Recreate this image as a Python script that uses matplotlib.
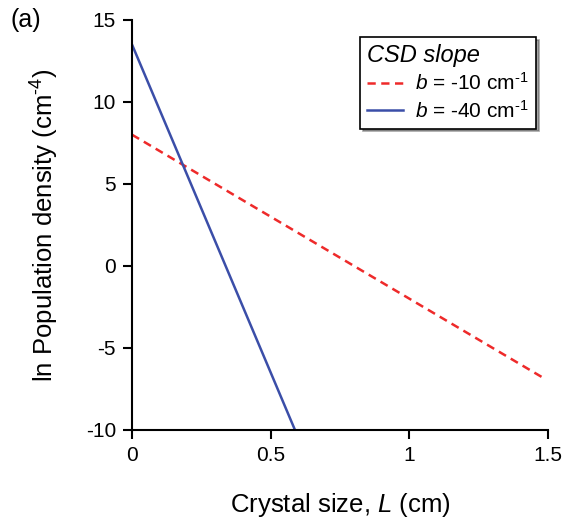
import numpy as np
import matplotlib.pyplot as plt

plt.rcParams['font.family'] = ['Liberation Sans', 'DejaVu Sans']
plt.rcParams['mathtext.fontset'] = 'custom'
plt.rcParams['mathtext.rm'] = 'Liberation Sans'
plt.rcParams['mathtext.it'] = 'Liberation Sans:italic'
plt.rcParams['axes.unicode_minus'] = False

# line endpoints (crystal size L in cm, ln population density)
L_red = [0.0, 1.48]
n_red = [8.0, -6.8]
L_blue = [0.0, 0.585]
n_blue = [13.5, -9.9]

xticks = [0, 0.5, 1, 1.5]
xticklabels = ["0", "0.5", "1", "1.5"]
yticks = [-10, -5, 0, 5, 10, 15]

fig = plt.figure(figsize=(5.65, 5.23), dpi=100)
ax = fig.add_axes([0.2336, 0.178, 0.7364, 0.784])

ax.plot(L_red, n_red, color="#ee2a2a", linestyle=(0, (3.3, 2.2)), linewidth=1.8,
        label=r"$\it{b}$ = -10 cm$^{\text{-1}}$")
ax.plot(L_blue, n_blue, color="#3b4ea8", linewidth=1.8,
        label=r"$\it{b}$ = -40 cm$^{\text{-1}}$")

ax.set_xlim(0, 1.5)
ax.set_ylim(-10, 15)
ax.set_xticks(xticks)
ax.set_xticklabels(xticklabels)
ax.set_yticks(yticks)
for s in ["top", "right"]:
    ax.spines[s].set_visible(False)
for s in ["left", "bottom"]:
    ax.spines[s].set_linewidth(1.5)
ax.tick_params(direction="out", length=6.5, width=1.5, labelsize=15, pad=5)

ax.set_xlabel("Crystal size, $\\it{L}$ (cm)", fontsize=18.5, labelpad=19)
ax.set_ylabel("ln Population density (cm$^{\\text{-4}}$)", fontsize=18.5, labelpad=18)

leg = ax.legend(title="CSD slope", loc="upper right", bbox_to_anchor=(0.971, 0.9585),
                fancybox=False, shadow=True, edgecolor="black", fontsize=15,
                title_fontsize=17, handlelength=1.7, handletextpad=0.6,
                labelspacing=0.25, borderpad=0.35,
                alignment="left", framealpha=1, borderaxespad=0)
leg.get_title().set_fontstyle("italic")
leg.get_frame().set_linewidth(1.2)

fig.text(0.018, 0.962, "(a)", fontsize=18, va="center")

fig.savefig("out.png", dpi=100)
